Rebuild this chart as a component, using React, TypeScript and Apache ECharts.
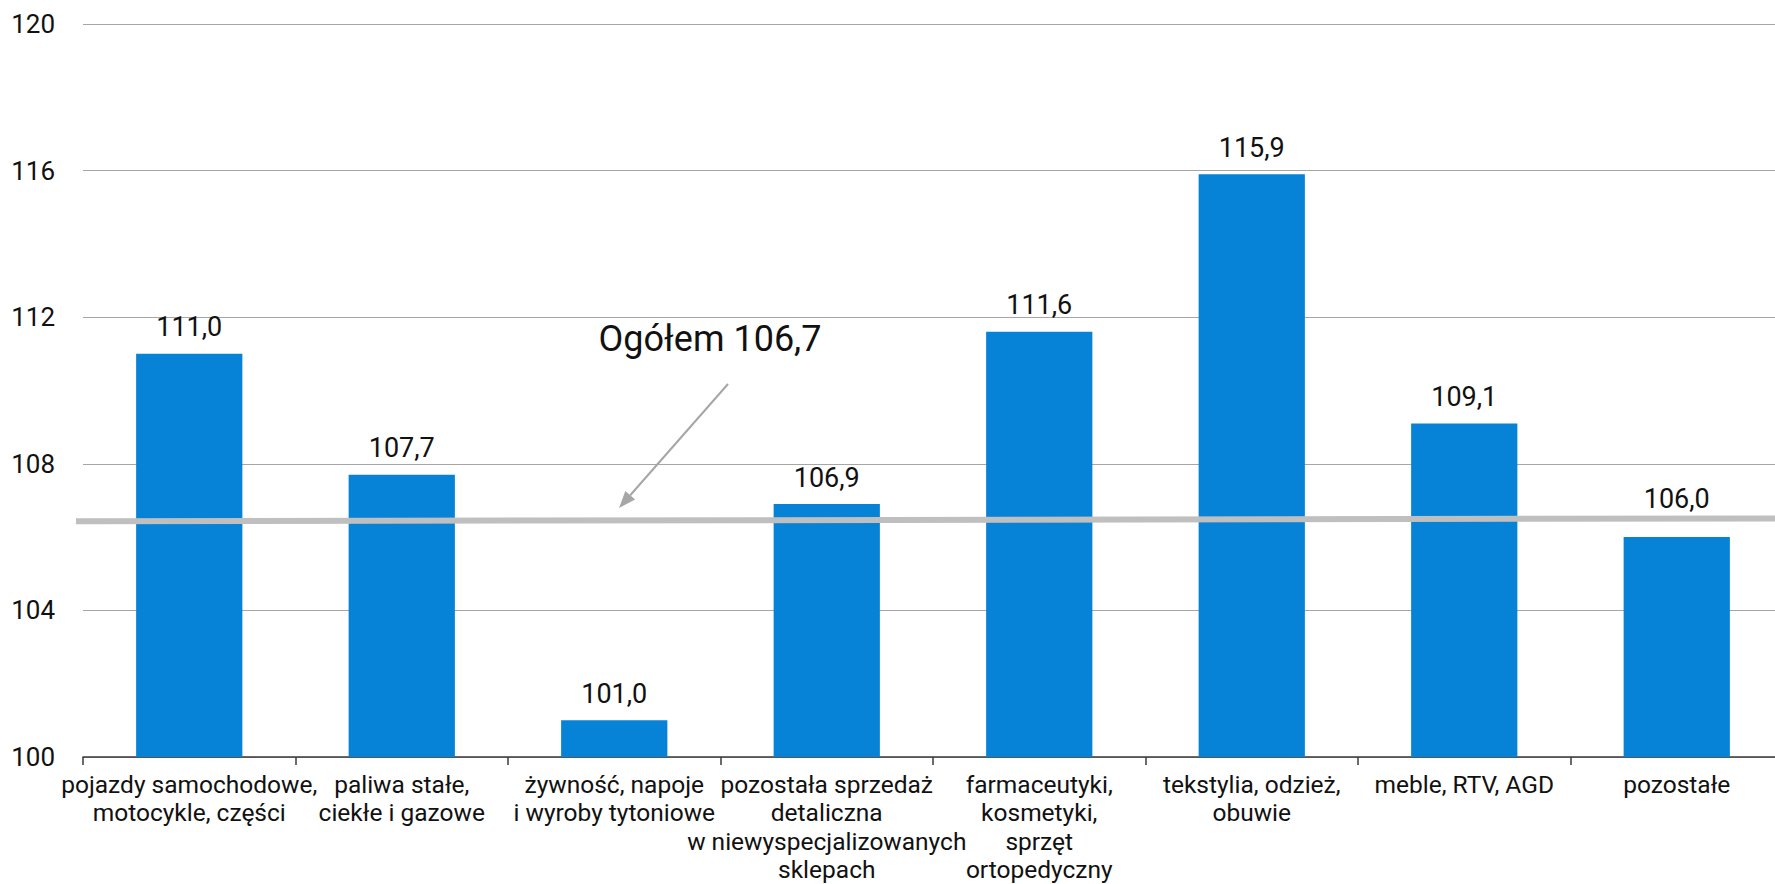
import React, { useEffect, useRef } from "react";
import * as echarts from "echarts";

const categories = [
  "pojazdy samochodowe,\nmotocykle, części",
  "paliwa stałe,\nciekłe i gazowe",
  "żywność, napoje\ni wyroby tytoniowe",
  "pozostała sprzedaż\ndetaliczna\nw niewyspecjalizowanych\nsklepach",
  "farmaceutyki,\nkosmetyki,\nsprzęt\nortopedyczny",
  "tekstylia, odzież,\nobuwie",
  "meble, RTV, AGD",
  "pozostałe",
];
const values = [111.0, 107.7, 101.0, 106.9, 111.6, 115.9, 109.1, 106.0];
const totalValue = 106.7;
const totalLabel = "Ogółem";
// level at which the reference draws the "Ogółem" reference bar
const totalLineLevel = 106.47;

const yMin = 100;
const yMax = 120;
const yInterval = 4;

const fmt = (v: number) => v.toFixed(1).replace(".", ",");

export default function App() {
  const ref = useRef<HTMLDivElement>(null);
  useEffect(() => {
    if (!ref.current) return;
    const chart = echarts.init(ref.current, undefined, { renderer: "svg" });
    const lastIdx = values.length - 1;
    chart.setOption({
      animation: false,
      backgroundColor: "#ffffff",
      grid: { left: 83, right: 0, top: 24, bottom: 125, containLabel: false },
      xAxis: {
        type: "category",
        data: categories,
        boundaryGap: true,
        axisLine: { show: true, lineStyle: { color: "#3a3a3a", width: 1.5 } },
        axisTick: { show: true, length: 8, lineStyle: { color: "#3a3a3a", width: 1.5 } },
        axisLabel: {
          interval: 0,
          margin: 13,
          color: "#111111",
          fontFamily: "Roboto",
          fontSize: 24.5,
          lineHeight: 28.5,
          align: "center",
        },
      },
      yAxis: {
        type: "value",
        min: yMin,
        max: yMax,
        interval: yInterval,
        axisLine: { show: false },
        axisTick: { show: false },
        axisLabel: {
          margin: 28,
          color: "#111111",
          fontFamily: "Roboto",
          fontSize: 26,
        },
        splitLine: { show: true, lineStyle: { color: "#a6a6a6", width: 1 } },
      },
      series: [
        {
          type: "bar",
          data: values.map((v, i) =>
            i === lastIdx ? { value: v, label: { distance: 25 } } : v
          ),
          barWidth: "50%",
          itemStyle: { color: "#0683d6" },
          label: {
            show: true,
            position: "top",
            distance: 13,
            color: "#111111",
            fontFamily: "Roboto",
            fontSize: 27,
            formatter: (p: any) => fmt(p.value),
          },
        },
      ],
    });

    const yLine = chart.convertToPixel({ yAxisIndex: 0 }, totalLineLevel) as number;
    const tip = [619, 508];
    const start = [728, 384];
    const dx = tip[0] - start[0];
    const dy = tip[1] - start[1];
    const len = Math.sqrt(dx * dx + dy * dy);
    const ux = dx / len;
    const uy = dy / len;
    const headLen = 17;
    const headHalf = 6.5;
    const bx = tip[0] - ux * headLen;
    const by = tip[1] - uy * headLen;
    const nx = -uy;
    const ny = ux;

    chart.setOption({
      graphic: [
        {
          type: "line",
          z: 100,
          shape: { x1: 76, y1: yLine + 1.5, x2: 1783, y2: yLine - 1.5 },
          style: { stroke: "#bfbfbf", lineWidth: 6 },
        },
        {
          type: "line",
          z: 100,
          shape: { x1: start[0], y1: start[1], x2: bx, y2: by },
          style: { stroke: "#a6a6a6", lineWidth: 2 },
        },
        {
          type: "polygon",
          z: 100,
          shape: {
            points: [
              [tip[0], tip[1]],
              [bx + nx * headHalf, by + ny * headHalf],
              [bx - nx * headHalf, by - ny * headHalf],
            ],
          },
          style: { fill: "#a6a6a6" },
        },
        {
          type: "text",
          z: 100,
          x: 710,
          y: 339,
          style: {
            text: `${totalLabel} ${fmt(totalValue)}`,
            fontFamily: "Roboto",
            fontSize: 36,
            fill: "#111111",
            textAlign: "center",
            textVerticalAlign: "middle",
          },
        },
      ],
    });

    return () => chart.dispose();
  }, []);
  return (
    <div
      style={{
        position: "absolute",
        left: 0,
        top: 0,
        width: 1775,
        height: 884,
        overflow: "hidden",
      }}
    >
      <div ref={ref} style={{ width: 1783, height: 884 }} />
    </div>
  );
}
